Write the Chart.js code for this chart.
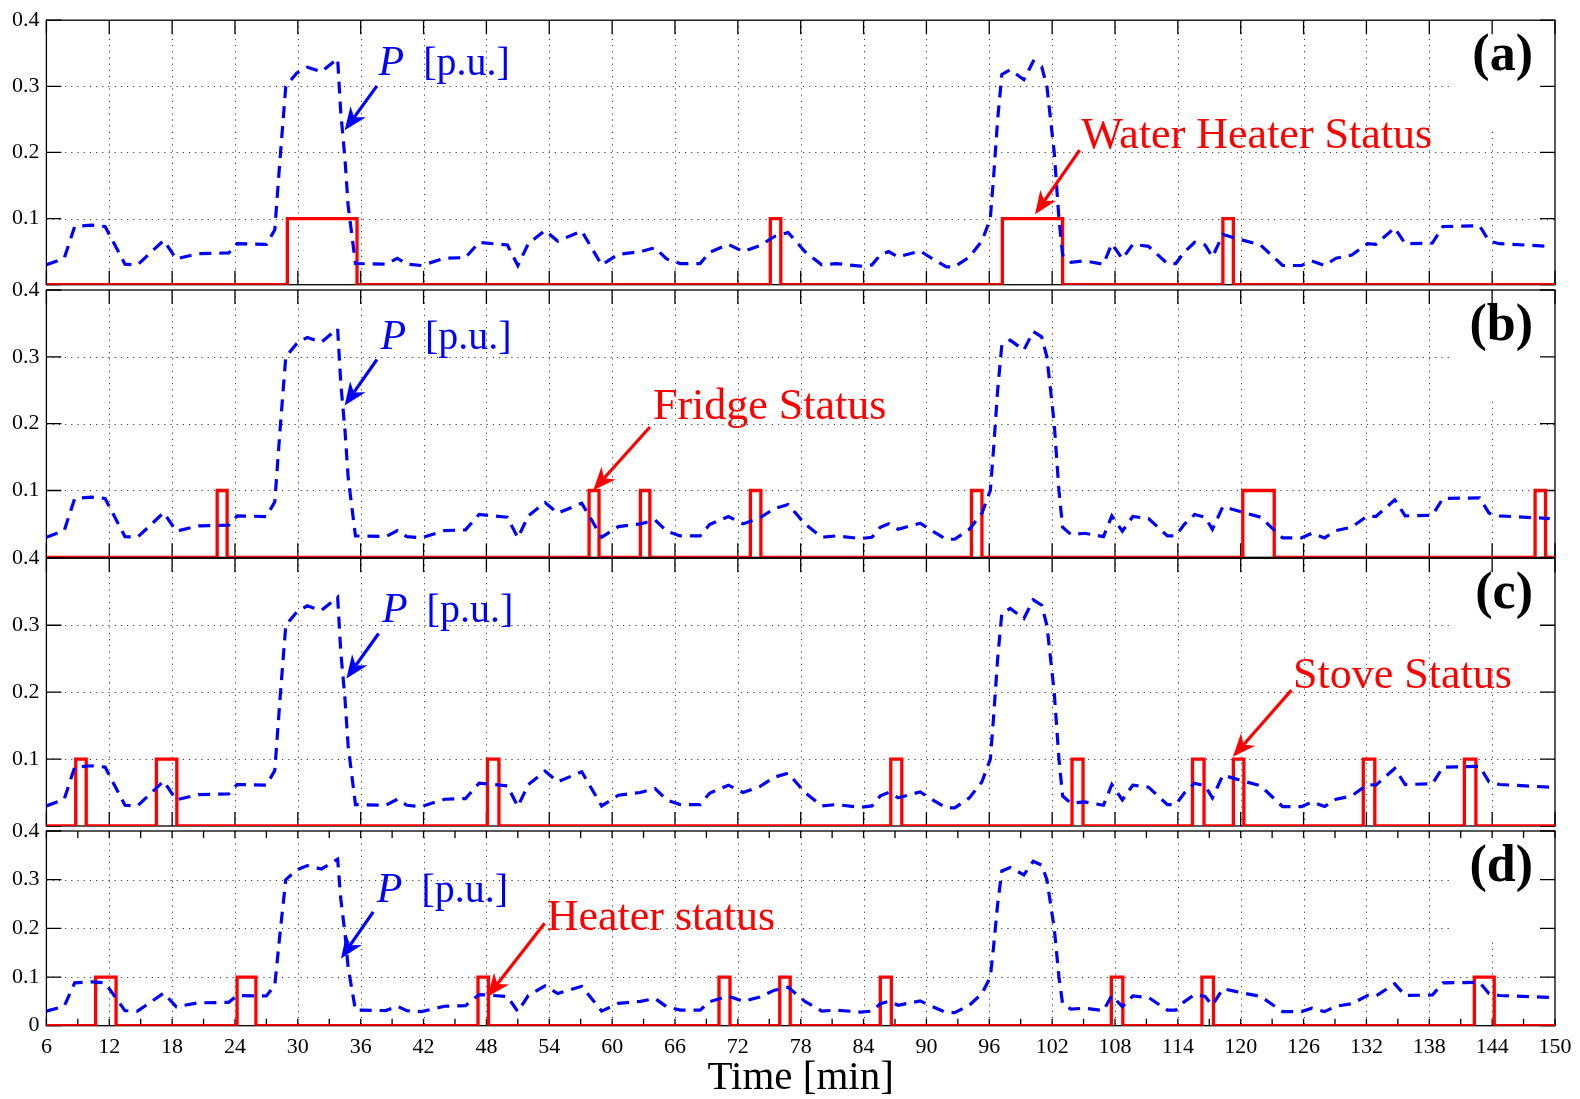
<!DOCTYPE html>
<html>
<head>
<meta charset="utf-8">
<script src="https://cdn.jsdelivr.net/npm/chart.js@4.4.1/dist/chart.umd.min.js"></script>
<style>
html, body { margin: 0; padding: 0; background: #fff; }
#wrap { position: relative; width: 1580px; height: 1099px; }
#wrap canvas { position: absolute; left: 0; top: 0; }
</style>
</head>
<body>
<div id="wrap">
  <canvas id="pa" width="1580" height="1099"></canvas>
  <canvas id="pb" width="1580" height="1099"></canvas>
  <canvas id="pc" width="1580" height="1099"></canvas>
  <canvas id="pd" width="1580" height="1099"></canvas>
</div>
<script>
// total power P [p.u.] (same curve in every panel)
var pTime = [6, 7.7, 8.7, 10.3, 11.6, 13.5, 14.7, 17.2, 18.4, 20.5, 23.4, 24.2, 27.0, 27.8, 28.3, 28.85, 29.9, 30.9, 32.25, 33.8,
  34.1, 34.5, 34.8, 35.5, 38.4, 39.5, 40.4, 41.8, 44.0, 46.0, 47.3, 50.0, 51.0, 52.0, 53.6, 54.8, 57.1, 59.0, 60.6, 62.7,
  64.1, 65.2, 66.5, 68.4, 69.3, 71.1, 72.5, 74.1, 75.5, 76.8, 78.4, 80.0, 81.4, 83.7, 84.8, 85.6, 86.4, 87.3, 89.4, 90.5,
  91.9, 92.7, 94.1, 95.3, 96.1, 96.4, 96.8, 97.2, 98.0, 99.3, 100.2, 101.0, 101.5, 102.2, 102.65, 103.0, 103.8, 105.1, 106.9, 107.7,
  108.7, 109.7, 111.2, 113.0, 113.8, 114.6, 115.6, 116.6, 117.3, 118.3, 119.6, 121.9, 124.0, 125.8, 126.8, 128.0, 129.1, 130.6, 132.1, 132.9,
  134.7, 135.7, 138.3, 139.3, 142.8, 143.7, 144.7, 149.5];
var pValue = [0.03, 0.04, 0.088, 0.09, 0.088, 0.031, 0.03, 0.067, 0.039, 0.047, 0.048, 0.062, 0.061, 0.083, 0.19, 0.30, 0.32, 0.329, 0.322, 0.342,
  0.26, 0.19, 0.12, 0.032, 0.031, 0.04, 0.031, 0.029, 0.04, 0.041, 0.064, 0.06, 0.029, 0.062, 0.082, 0.066, 0.081, 0.03, 0.046, 0.05,
  0.056, 0.039, 0.032, 0.032, 0.049, 0.061, 0.05, 0.059, 0.073, 0.079, 0.05, 0.03, 0.032, 0.028, 0.03, 0.045, 0.05, 0.042, 0.051, 0.04,
  0.027, 0.027, 0.042, 0.066, 0.1, 0.16, 0.25, 0.318, 0.325, 0.31, 0.338, 0.33, 0.3, 0.2, 0.1, 0.045, 0.034, 0.036, 0.031, 0.062,
  0.039, 0.061, 0.058, 0.032, 0.032, 0.049, 0.064, 0.06, 0.042, 0.076, 0.07, 0.06, 0.029, 0.029, 0.036, 0.029, 0.04, 0.045, 0.062, 0.061,
  0.086, 0.062, 0.063, 0.088, 0.089, 0.066, 0.062, 0.058];

// appliance status pulses: switch-on / switch-off minutes
var waterOn   = [29.0, 75.1, 97.25, 118.3];
var waterOff  = [35.65, 76.1, 103.0, 119.3];
var fridgeOn  = [22.3, 57.8, 62.7, 73.2, 94.3, 120.2, 148.1];
var fridgeOff = [23.25, 58.75, 63.6, 74.2, 95.3, 123.2, 149.1];
var stoveOn   = [8.8, 16.5, 48.1, 86.6, 103.9, 115.4, 119.3, 131.7, 141.35];
var stoveOff  = [9.8, 18.45, 49.2, 87.65, 104.95, 116.5, 120.3, 132.8, 142.45];
var heaterOn  = [10.7, 24.2, 47.2, 70.2, 76.0, 85.6, 107.65, 116.3, 142.3];
var heaterOff = [12.65, 26.0, 48.2, 71.25, 77.0, 86.65, 108.75, 117.4, 144.2];
var statusLevel = 0.1;

var xTicks = [6, 12, 18, 24, 30, 36, 42, 48, 54, 60, 66, 72, 78, 84, 90, 96, 102, 108, 114, 120, 126, 132, 138, 144, 150];
var xMinorTicks = [9, 15, 21, 27, 33, 39, 45, 51, 57, 63, 69, 75, 81, 87, 93, 99, 105, 111, 117, 123, 129, 135, 141, 147];
var yTicks = [0, 0.1, 0.2, 0.3, 0.4];

var SERIF = '"Liberation Serif", "Times New Roman", serif';
var BLUE = '#0000ff', RED = '#ff0000';

// panel layout (pixels) and annotation anchors (data units)
var panels = [
  { id: 'pa', letter: '(a)', top: 16.7, bottom: 284.7, on: waterOn, off: waterOff, last: false,
    name: 'Water Heater Status', sText: [104.79, 0.206], sArrow: [104.63, 0.2036, 100.37, 0.1066],
    pText: [37.71, 0.3164], pArrow: [37.55, 0.3006, 34.47, 0.2334] },
  { id: 'pb', letter: '(b)', top: 290, bottom: 557.3, on: fridgeOn, off: fridgeOff, last: false,
    name: 'Fridge Status', sText: [63.9, 0.2076], sArrow: [63.61, 0.195, 58.2, 0.1004],
    pText: [37.88, 0.312], pArrow: [37.55, 0.296, 34.47, 0.227] },
  { id: 'pc', letter: '(c)', top: 558.3, bottom: 826, on: stoveOn, off: stoveOff, last: false,
    name: 'Stove Status', sText: [124.99, 0.2055], sArrow: [124.84, 0.203, 119.26, 0.1034],
    pText: [38.03, 0.305], pArrow: [37.71, 0.2876, 34.64, 0.2204] },
  { id: 'pd', letter: '(d)', top: 831, bottom: 1025.7, on: heaterOn, off: heaterOff, last: true,
    name: 'Heater status', sText: [53.76, 0.196], sArrow: [53.56, 0.2103, 48.1, 0.0595],
    pText: [37.54, 0.2546], pArrow: [37.2, 0.234, 34.12, 0.1383] }
];

function stepPoints(on, off) {
  var pts = [{ x: xTicks[0], y: 0 }];
  for (var i = 0; i < on.length; i++) {
    pts.push({ x: on[i], y: 0 }, { x: on[i], y: statusLevel }, { x: off[i], y: statusLevel }, { x: off[i], y: 0 });
  }
  pts.push({ x: xTicks[xTicks.length - 1], y: 0 });
  return pts;
}

function drawArrow(ctx, x1, y1, x2, y2, color) {
  var ang = Math.atan2(y2 - y1, x2 - x1), L = 23, W = 9.5;
  var c = Math.cos(ang), s = Math.sin(ang);
  var bx = x2 - c * L * 0.7, by = y2 - s * L * 0.7;
  var hx = x2 - c * L, hy = y2 - s * L;
  ctx.strokeStyle = color; ctx.fillStyle = color; ctx.lineWidth = 3.2; ctx.setLineDash([]);
  ctx.beginPath(); ctx.moveTo(x1, y1); ctx.lineTo(bx, by); ctx.stroke();
  ctx.beginPath();
  ctx.moveTo(x2, y2);
  ctx.lineTo(hx - s * W, hy + c * W);
  ctx.lineTo(bx, by);
  ctx.lineTo(hx + s * W, hy - c * W);
  ctx.closePath(); ctx.fill();
}

function axesPlugin(p) {
  return {
    id: 'matlabAxes',
    beforeDatasetsDraw: function (chart) {
      var ctx = chart.ctx, a = chart.chartArea, xs = chart.scales.x, ys = chart.scales.y;
      ctx.save();
      // dotted grid
      ctx.setLineDash([1.2, 5]); ctx.strokeStyle = 'rgba(0,0,0,0.75)'; ctx.lineWidth = 1;
      ctx.beginPath();
      xTicks.forEach(function (t) {
        if (t > xs.min && t < xs.max) {
          var x = Math.round(xs.getPixelForValue(t)) + 0.5;
          ctx.moveTo(x, a.top); ctx.lineTo(x, a.bottom);
        }
      });
      yTicks.forEach(function (v) {
        if (v > ys.min && v < ys.max) {
          var y = Math.round(ys.getPixelForValue(v)) + 0.5;
          ctx.moveTo(a.left, y); ctx.lineTo(a.right, y);
        }
      });
      ctx.stroke();
      ctx.setLineDash([]);
      // panel letter background
      ctx.fillStyle = '#fff';
      ctx.fillRect(a.right - 105, a.top + 1, 104, 108);
      // box
      ctx.strokeStyle = '#000'; ctx.lineWidth = 1.3;
      ctx.strokeRect(a.left, a.top, a.right - a.left, a.bottom - a.top);
      // inward ticks
      ctx.beginPath();
      var xl = p.last ? 7 : 14;
      var xt = p.last ? xTicks.concat(xMinorTicks) : xTicks;
      xt.forEach(function (t) {
        var x = xs.getPixelForValue(t);
        ctx.moveTo(x, a.bottom); ctx.lineTo(x, a.bottom - xl);
        ctx.moveTo(x, a.top); ctx.lineTo(x, a.top + xl);
      });
      yTicks.forEach(function (v) {
        var y = ys.getPixelForValue(v);
        ctx.moveTo(a.left, y); ctx.lineTo(a.left + 15, y);
        ctx.moveTo(a.right, y); ctx.lineTo(a.right - 15, y);
      });
      ctx.stroke();
      ctx.restore();
    },
    afterDatasetsDraw: function (chart) {
      var ctx = chart.ctx, a = chart.chartArea, xs = chart.scales.x, ys = chart.scales.y;
      function px(t) { return xs.getPixelForValue(t); }
      function py(v) { return ys.getPixelForValue(v); }
      ctx.save();
      ctx.textBaseline = 'alphabetic';
      // P [p.u.]
      var x0 = px(p.pText[0]), y0 = py(p.pText[1]);
      ctx.fillStyle = BLUE; ctx.textAlign = 'left';
      ctx.font = 'italic 42px ' + SERIF;
      ctx.fillText('P', x0, y0);
      var w = ctx.measureText('P').width;
      ctx.font = '40px ' + SERIF;
      ctx.fillText('[p.u.]', x0 + w + 19, y0);
      drawArrow(ctx, px(p.pArrow[0]), py(p.pArrow[1]), px(p.pArrow[2]), py(p.pArrow[3]), BLUE);
      // status label
      ctx.fillStyle = RED;
      ctx.font = '44px ' + SERIF;
      ctx.fillText(p.name, px(p.sText[0]), py(p.sText[1]));
      drawArrow(ctx, px(p.sArrow[0]), py(p.sArrow[1]), px(p.sArrow[2]), py(p.sArrow[3]), RED);
      // panel letter
      ctx.fillStyle = '#000'; ctx.textAlign = 'right';
      ctx.font = 'bold 52px ' + SERIF;
      ctx.fillText(p.letter, a.right - 22, a.top + 50);
      ctx.restore();
    }
  };
}

var W = 1580, H = 1099, AXIS_LEFT = 46.4, AXIS_RIGHT = 1555;

panels.forEach(function (p) {
  var xAxisH = p.last ? (H - p.bottom) : 0;
  new Chart(document.getElementById(p.id), {
    type: 'line',
    data: {
      datasets: [
        { label: 'P [p.u.]', data: pTime.map(function (t, i) { return { x: t, y: pValue[i] }; }),
          borderColor: BLUE, borderWidth: 3.2, borderDash: [12, 8], pointRadius: 0, tension: 0, fill: false, order: 0 },
        { label: p.name, data: stepPoints(p.on, p.off),
          borderColor: RED, borderWidth: 3.3, pointRadius: 0, tension: 0, fill: false, order: 1 }
      ]
    },
    options: {
      responsive: false,
      animation: false,
      events: [],
      layout: { padding: { left: 0, right: W - AXIS_RIGHT, top: p.top, bottom: H - p.bottom - xAxisH } },
      plugins: { legend: { display: false }, tooltip: { enabled: false } },
      scales: {
        x: {
          type: 'linear', min: xTicks[0], max: xTicks[xTicks.length - 1],
          afterBuildTicks: function (s) { s.ticks = xTicks.map(function (v) { return { value: v }; }); },
          afterFit: function (s) { s.height = xAxisH; },
          grid: { display: false, drawTicks: false },
          border: { display: false },
          ticks: { display: p.last, autoSkip: false, maxRotation: 0, padding: 8, color: '#000',
                   font: { family: SERIF, size: 22 }, callback: function (v) { return String(v); } },
          title: { display: p.last, text: 'Time [min]', color: '#000',
                   font: { family: SERIF, size: 41, lineHeight: 1.0 }, padding: 0 }
        },
        y: {
          min: yTicks[0], max: yTicks[yTicks.length - 1],
          afterBuildTicks: function (s) { s.ticks = yTicks.map(function (v) { return { value: v }; }); },
          afterFit: function (s) { s.width = AXIS_LEFT; },
          grid: { display: false, drawTicks: false },
          border: { display: false },
          ticks: { padding: 7, color: '#000', font: { family: SERIF, size: 22 },
                   callback: function (v) { if (v === 0) return p.last ? '0' : ''; return v.toFixed(1); } }
        }
      }
    },
    plugins: [axesPlugin(p)]
  });
});
</script>
</body>
</html>
